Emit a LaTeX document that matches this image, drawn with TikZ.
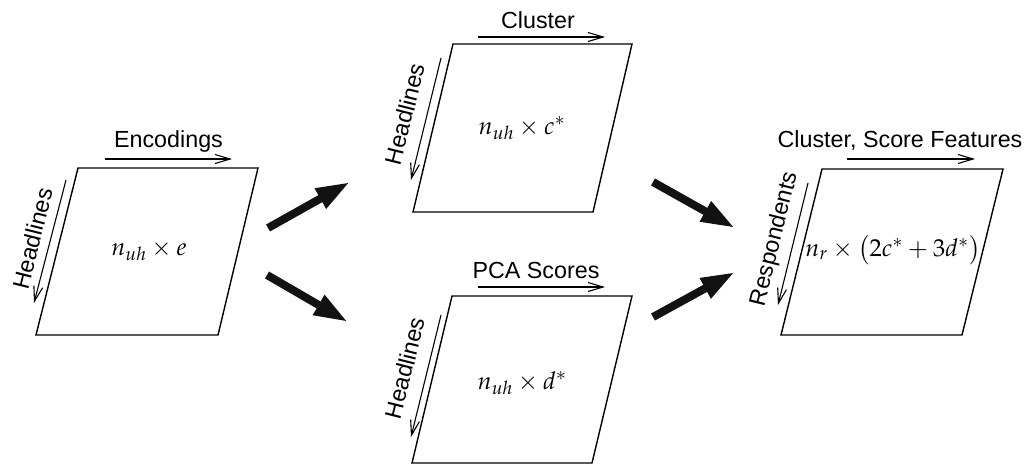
\documentclass[tikz,border=0pt]{standalone}
\usepackage{mathpazo}
\usepackage[no-math]{fontspec}
\setsansfont{Liberation Sans}
\usetikzlibrary{arrows.meta}
\begin{document}
\begin{tikzpicture}[x=1pt,y=-1pt,
  frame/.style={line width=1.4pt, line join=miter},
  lbl/.style={font=\fontsize{23.3}{27}\selectfont\sffamily, inner sep=0pt},
  mth/.style={font=\fontsize{24.5}{29}\selectfont, inner sep=0pt},
  dirarrow/.style={line width=1.1pt, -{Straight Barb[length=15pt,width=9pt]}},
  bigarrow/.style={line width=8pt, draw=black!93, -{Triangle[length=34pt,width=21pt]}}]
\useasboundingbox (0,0) rectangle (1032,464);

% --- left: encodings ---
\draw[frame] (78,168) -- (258,168) -- (218,335) -- (36,335) -- cycle;
\node[mth] (mA) at (149,251) {$n_{uh}\times e$};
\coordinate (aTs) at (105,159); \coordinate (aTe) at (232,159);
\draw[dirarrow] (aTs) -- (aTe);
\node[lbl, anchor=base] (tA) at (168.5,147) {Encodings};
\coordinate (aLs) at (66,180); \coordinate (aLe) at (34,303);
\draw[dirarrow] (aLs) -- (aLe);
\node[lbl, rotate=76] (sA) at (32.5,238.5) {Headlines};

% --- top middle: cluster ---
\draw[frame] (453,44) -- (632,44) -- (593,212) -- (413,212) -- cycle;
\node[mth] (mB) at (522,128) {$n_{uh}\times c^{*}$};
\coordinate (bTs) at (478,37); \coordinate (bTe) at (605,37);
\draw[dirarrow] (bTs) -- (bTe);
\node[lbl, anchor=base] (tB) at (538,28) {Cluster};
\coordinate (bLs) at (441,58); \coordinate (bLe) at (411,180);
\draw[dirarrow] (bLs) -- (bLe);
\node[lbl, rotate=76] (sB) at (405,114) {Headlines};

% --- bottom middle: PCA ---
\draw[frame] (452,296) -- (632,296) -- (592,463) -- (412,463) -- cycle;
\node[mth] (mC) at (522,383) {$n_{uh}\times d^{*}$};
\coordinate (cTs) at (478,287); \coordinate (cTe) at (605,287);
\draw[dirarrow] (cTs) -- (cTe);
\node[lbl, anchor=base] (tC) at (536,278) {PCA Scores};
\coordinate (cLs) at (441,315); \coordinate (cLe) at (411,437);
\draw[dirarrow] (cLs) -- (cLe);
\node[lbl, rotate=76] (sC) at (405,368) {Headlines};

% --- right: respondents ---
\draw[frame] (822,169) -- (1003,169) -- (962,335) -- (781,335) -- cycle;
\node[mth] (mD) at (893,250) {$n_{r}\times\bigl(2c^{*}+3d^{*}\bigr)$};
\coordinate (dTs) at (847,159); \coordinate (dTe) at (975,159);
\draw[dirarrow] (dTs) -- (dTe);
\node[lbl, anchor=base] (tD) at (900,147) {Cluster, Score Features};
\coordinate (dLs) at (808,183); \coordinate (dLe) at (778,305);
\draw[dirarrow] (dLs) -- (dLe);
\node[lbl, rotate=76] (sD) at (775,239) {Respondents};

% --- thick arrows ---
\coordinate (k1s) at (268,228); \coordinate (k1e) at (350,182);
\coordinate (k2s) at (267,275); \coordinate (k2e) at (348,322);
\coordinate (k3s) at (653,182); \coordinate (k3e) at (735,228);
\coordinate (k4s) at (653,317); \coordinate (k4e) at (735,272);
\draw[bigarrow] (k1s) -- (k1e);
\draw[bigarrow] (k2s) -- (k2e);
\draw[bigarrow] (k3s) -- (k3e);
\draw[bigarrow] (k4s) -- (k4e);
\end{tikzpicture}
\end{document}
